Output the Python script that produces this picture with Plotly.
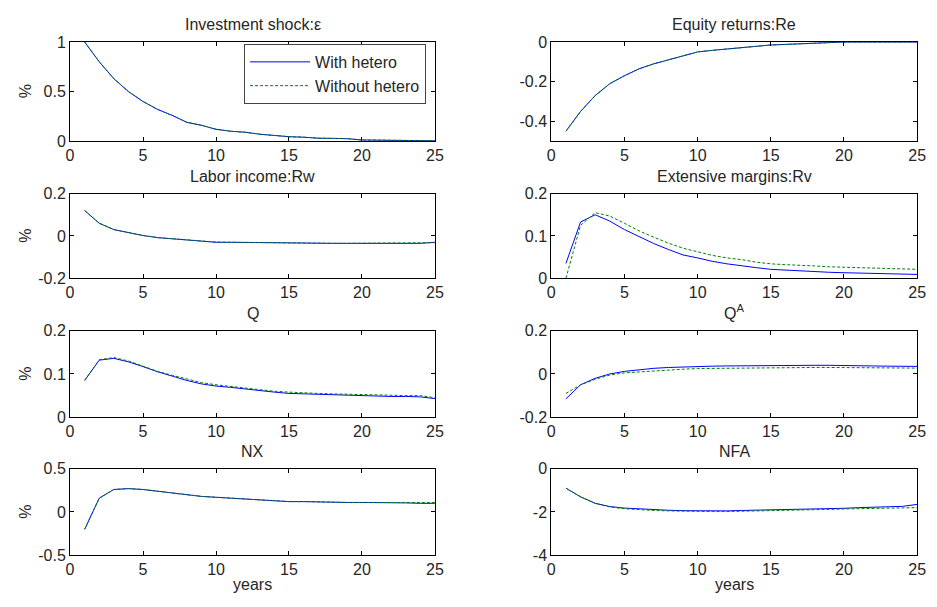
import plotly.graph_objects as go

years = list(range(1, 26))

titles = ["Investment shock:ε", "Equity returns:Re", "Labor income:Rw", "Extensive margins:Rv",
          "Q", "Q<sup>A</sup>", "NX", "NFA"]

inv_with = [1.0, 0.80, 0.63, 0.50, 0.40, 0.32, 0.26, 0.19, 0.16, 0.12, 0.10, 0.09, 0.07, 0.055, 0.045,
            0.04, 0.03, 0.028, 0.025, 0.012, 0.01, 0.008, 0.006, 0.005, 0.004]
inv_without = [1.0, 0.80, 0.63, 0.50, 0.40, 0.32, 0.26, 0.19, 0.16, 0.12, 0.10, 0.09, 0.07, 0.055, 0.045,
               0.04, 0.03, 0.028, 0.025, 0.012, 0.01, 0.008, 0.006, 0.005, 0.004]

re_with = [-0.45, -0.35, -0.27, -0.21, -0.17, -0.135, -0.11, -0.09, -0.07, -0.05, -0.042, -0.035, -0.028,
           -0.022, -0.015, -0.012, -0.008, -0.005, -0.003, 0.0, 0.0, 0.0, 0.0, 0.0, 0.0]
re_without = [-0.45, -0.35, -0.27, -0.21, -0.17, -0.135, -0.11, -0.09, -0.07, -0.05, -0.042, -0.035, -0.028,
              -0.022, -0.015, -0.012, -0.008, -0.005, -0.003, 0.0, 0.0, 0.0, 0.0, 0.0, 0.0]

rw_with = [0.12, 0.06, 0.03, 0.015, 0.002, -0.008, -0.014, -0.018, -0.024, -0.03, -0.03, -0.031, -0.032,
           -0.034, -0.035, -0.035, -0.035, -0.035, -0.035, -0.035, -0.035, -0.035, -0.035, -0.035, -0.03]
rw_without = [0.12, 0.06, 0.03, 0.015, 0.002, -0.008, -0.014, -0.018, -0.024, -0.029, -0.03, -0.031, -0.032,
              -0.034, -0.035, -0.035, -0.035, -0.035, -0.035, -0.035, -0.035, -0.035, -0.035, -0.035, -0.032]

rv_with = [0.035, 0.133, 0.15, 0.135, 0.115, 0.098, 0.082, 0.068, 0.055, 0.048, 0.04, 0.034, 0.029, 0.025,
           0.021, 0.019, 0.017, 0.015, 0.014, 0.013, 0.012, 0.011, 0.01, 0.009, 0.009]
rv_without = [0.0, 0.125, 0.155, 0.147, 0.13, 0.112, 0.097, 0.083, 0.071, 0.062, 0.054, 0.048, 0.044, 0.038,
              0.034, 0.032, 0.031, 0.029, 0.027, 0.026, 0.025, 0.024, 0.023, 0.022, 0.021]

q_with = [0.085, 0.132, 0.136, 0.128, 0.117, 0.105, 0.095, 0.085, 0.077, 0.072, 0.069, 0.065, 0.061, 0.058,
          0.055, 0.054, 0.053, 0.052, 0.05, 0.05, 0.049, 0.048, 0.048, 0.047, 0.043]
q_without = [0.085, 0.133, 0.138, 0.13, 0.118, 0.106, 0.097, 0.088, 0.08, 0.075, 0.071, 0.067, 0.063, 0.06,
             0.058, 0.056, 0.055, 0.054, 0.053, 0.052, 0.051, 0.05, 0.05, 0.05, 0.045]

qa_with = [-0.115, -0.05, -0.02, 0.0, 0.012, 0.02, 0.026, 0.03, 0.033, 0.035, 0.036, 0.037, 0.038, 0.039,
           0.04, 0.04, 0.04, 0.04, 0.04, 0.04, 0.038, 0.037, 0.036, 0.035, 0.035]
qa_without = [-0.09, -0.05, -0.025, -0.005, 0.005, 0.01, 0.015, 0.02, 0.022, 0.025, 0.026, 0.027, 0.028,
              0.029, 0.03, 0.03, 0.03, 0.03, 0.03, 0.03, 0.03, 0.03, 0.03, 0.028, 0.027]

nx_with = [-0.2, 0.16, 0.26, 0.27, 0.26, 0.24, 0.22, 0.2, 0.18, 0.17, 0.16, 0.15, 0.14, 0.13, 0.12, 0.12,
           0.115, 0.11, 0.11, 0.11, 0.11, 0.105, 0.105, 0.1, 0.1]
nx_without = [-0.2, 0.16, 0.26, 0.27, 0.26, 0.24, 0.22, 0.2, 0.18, 0.17, 0.16, 0.15, 0.14, 0.13, 0.12, 0.12,
              0.115, 0.11, 0.11, 0.11, 0.11, 0.11, 0.11, 0.11, 0.11]

nfa_with = [-0.9, -1.3, -1.6, -1.75, -1.82, -1.86, -1.9, -1.92, -1.94, -1.95, -1.95, -1.95, -1.93, -1.92,
            -1.91, -1.9, -1.88, -1.87, -1.85, -1.83, -1.8, -1.78, -1.76, -1.74, -1.65]
nfa_without = [-0.9, -1.3, -1.6, -1.77, -1.85, -1.9, -1.93, -1.95, -1.97, -1.98, -1.98, -1.98, -1.97, -1.96,
               -1.95, -1.94, -1.92, -1.9, -1.88, -1.86, -1.85, -1.83, -1.82, -1.81, -1.8]

with_series = [inv_with, re_with, rw_with, rv_with, q_with, qa_with, nx_with, nfa_with]
without_series = [inv_without, re_without, rw_without, rv_without, q_without, qa_without, nx_without, nfa_without]

y_ranges = [[0, 1], [-0.5, 0], [-0.2, 0.2], [0, 0.2], [0, 0.2], [-0.2, 0.2], [-0.5, 0.5], [-4, 0]]
y_ticks = [[0, 0.5, 1], [-0.4, -0.2, 0], [-0.2, 0, 0.2], [0, 0.1, 0.2], [0, 0.1, 0.2], [-0.2, 0, 0.2],
           [-0.5, 0, 0.5], [-4, -2, 0]]
y_ticklabels = [["0", "0.5", "1"], ["-0.4", "-0.2", "0"], ["-0.2", "0", "0.2"], ["0", "0.1", "0.2"],
                ["0", "0.1", "0.2"], ["-0.2", "0", "0.2"], ["-0.5", "0", "0.5"], ["-4", "-2", "0"]]
x_ticks = [0, 5, 10, 15, 20, 25]

W, H = 937, 607
col_px = [(67, 437), (555, 926)]
row_px = [(35, 137), (191, 278), (332, 421), (474, 563)]

FONT = "Liberation Sans, Arial, sans-serif"
FS = 16
TXT = "#262626"
fig = go.Figure()
layout = dict(width=W, height=H, margin=dict(l=0, r=0, t=0, b=0), paper_bgcolor="white",
              plot_bgcolor="white", font=dict(family=FONT, size=FS, color=TXT), showlegend=True)
annotations = []

for i in range(8):
    r, c = divmod(i, 2)
    k = "" if i == 0 else str(i + 1)
    x0, x1 = col_px[c]
    yt, yb = row_px[r]
    xd = [x0 / W, x1 / W]
    yd = [1 - yb / H, 1 - yt / H]
    axis_common = dict(showline=True, linecolor="black", linewidth=1, mirror="ticks", ticks="inside",
                       ticklen=4, tickcolor="black", showgrid=False, zeroline=False,
                       tickfont=dict(family=FONT, size=FS, color=TXT))
    layout["xaxis" + k] = dict(domain=xd, anchor="y" + k, range=[0, 25], tickvals=x_ticks, **axis_common)
    layout["yaxis" + k] = dict(domain=yd, anchor="x" + k, range=y_ranges[i], tickvals=y_ticks[i],
                               ticktext=y_ticklabels[i], **axis_common)
    fig.add_trace(go.Scatter(x=years, y=with_series[i], mode="lines", name="With hetero",
                             line=dict(color="#0000ff", width=1), xaxis="x" + k, yaxis="y" + k,
                             showlegend=(i == 0)))
    fig.add_trace(go.Scatter(x=years, y=without_series[i], mode="lines", name="Without hetero",
                             line=dict(color="#008000", width=1, dash="3px,2px"), xaxis="x" + k, yaxis="y" + k,
                             showlegend=(i == 0)))
    annotations.append(dict(text=titles[i], x=(xd[0] + xd[1]) / 2, y=yd[1] + 7 / H, xref="paper", yref="paper",
                            xanchor="center", yanchor="bottom", showarrow=False,
                            font=dict(family=FONT, size=FS, color=TXT)))
    if c == 0:
        annotations.append(dict(text="%", x=22 / W, y=(yd[0] + yd[1]) / 2, xref="paper", yref="paper",
                                xanchor="center", yanchor="middle", showarrow=False, textangle=-90,
                                font=dict(family=FONT, size=FS, color=TXT)))
    if r == 3:
        annotations.append(dict(text="years", x=(xd[0] + xd[1]) / 2, y=1 - 593 / H, xref="paper", yref="paper",
                                xanchor="center", yanchor="middle", showarrow=False,
                                font=dict(family=FONT, size=FS, color=TXT)))

layout["annotations"] = annotations
layout["legend"] = dict(x=428 / W, y=1 - 37 / H, xanchor="right", yanchor="top", bgcolor="white",
                        bordercolor="#444", borderwidth=1, font=dict(family=FONT, size=FS, color=TXT),
                        tracegroupgap=0, itemwidth=60)
fig.update_layout(**layout)
fig.write_html("out.html")
